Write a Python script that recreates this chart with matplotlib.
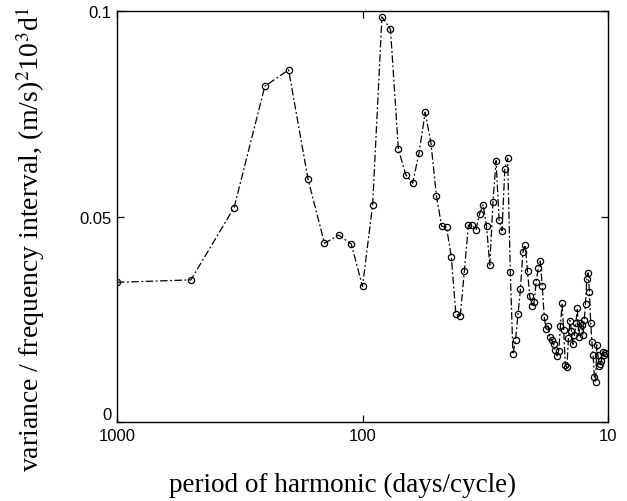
import numpy as np
import matplotlib
matplotlib.use("Agg")
import matplotlib.pyplot as plt

plt.rcParams['mathtext.fontset'] = 'stix'

# record length (days); harmonic n has period record_length / n
record_length = 1000.0
harmonic = np.arange(1, 98)

variance = [
    0.0341, 0.0347, 0.0523, 0.0818, 0.0858, 0.0592, 0.0436, 0.0456, 0.0434, 0.0331,
    0.0530, 0.0987, 0.0957, 0.0665, 0.0603, 0.0582, 0.0656, 0.0755, 0.0680, 0.0552,
    0.0478, 0.0475, 0.0403, 0.0264, 0.0258, 0.0369, 0.0480, 0.0480, 0.0469, 0.0508,
    0.0530, 0.0477, 0.0383, 0.0537, 0.0637, 0.0493, 0.0467, 0.0617, 0.0643, 0.0367,
    0.0166, 0.0201, 0.0263, 0.0325, 0.0414, 0.0432, 0.0368, 0.0307, 0.0283, 0.0292,
    0.0343, 0.0375, 0.0393, 0.0331, 0.0256, 0.0228, 0.0235, 0.0208, 0.0200, 0.0190,
    0.0176, 0.0162, 0.0175, 0.0234, 0.0290, 0.0225, 0.0140, 0.0134, 0.0205, 0.0248,
    0.0222, 0.0190, 0.0212, 0.0243, 0.0278, 0.0208, 0.0243, 0.0236, 0.0212, 0.0250,
    0.0289, 0.0350, 0.0364, 0.0318, 0.0243, 0.0196, 0.0163, 0.0110, 0.0098, 0.0189,
    0.0163, 0.0138, 0.0142, 0.0150, 0.0171, 0.0165, 0.0168,
]

period = record_length / harmonic

x_ticks = [1000, 100, 10]
x_ticklabels = ['1000', '100', '10']
y_ticks = [0, 0.05, 0.1]
y_ticklabels = ['0', '0.05', '0.1']

fig = plt.figure(figsize=(6.27, 5.02), dpi=100)
ax = fig.add_axes([0.1866, 0.1564, 0.7831, 0.8187])

ax.plot(period, variance, color='black', linewidth=0.9, dashes=(6, 2, 1.5, 2),
        marker='o', markersize=4.5, markerfacecolor='none', markeredgecolor='black',
        markeredgewidth=0.9)

ax.set_xscale('log')
ax.set_xlim(1000, 10)
ax.set_ylim(0, 0.1)
ax.set_xticks(x_ticks)
ax.set_xticklabels(x_ticklabels)
ax.set_yticks(y_ticks)
ax.set_yticklabels(y_ticklabels)
ax.minorticks_off()
ax.tick_params(direction='in', top=True, right=True, length=5, width=0.9,
               labelsize=12, pad=4)
for lab in ax.get_xticklabels() + ax.get_yticklabels():
    lab.set_family('Liberation Sans')
# the "0" sits just above the corner, as in the original
ax.get_yticklabels()[0].set_verticalalignment('bottom')
for s in ax.spines.values():
    s.set_linewidth(1.0)

fig.text(343 / 627, 1 - 485 / 502, 'period of harmonic (days/cycle)',
         family='Liberation Serif', fontsize=19.5, ha='center', va='center')
fig.text(30 / 627, 1 - 240 / 502,
         r'variance / frequency interval, (m/s)$^2$10$^3$d$^1$',
         family='Liberation Serif', fontsize=20, rotation=90,
         ha='center', va='center')

fig.savefig('out.png', dpi=100)
